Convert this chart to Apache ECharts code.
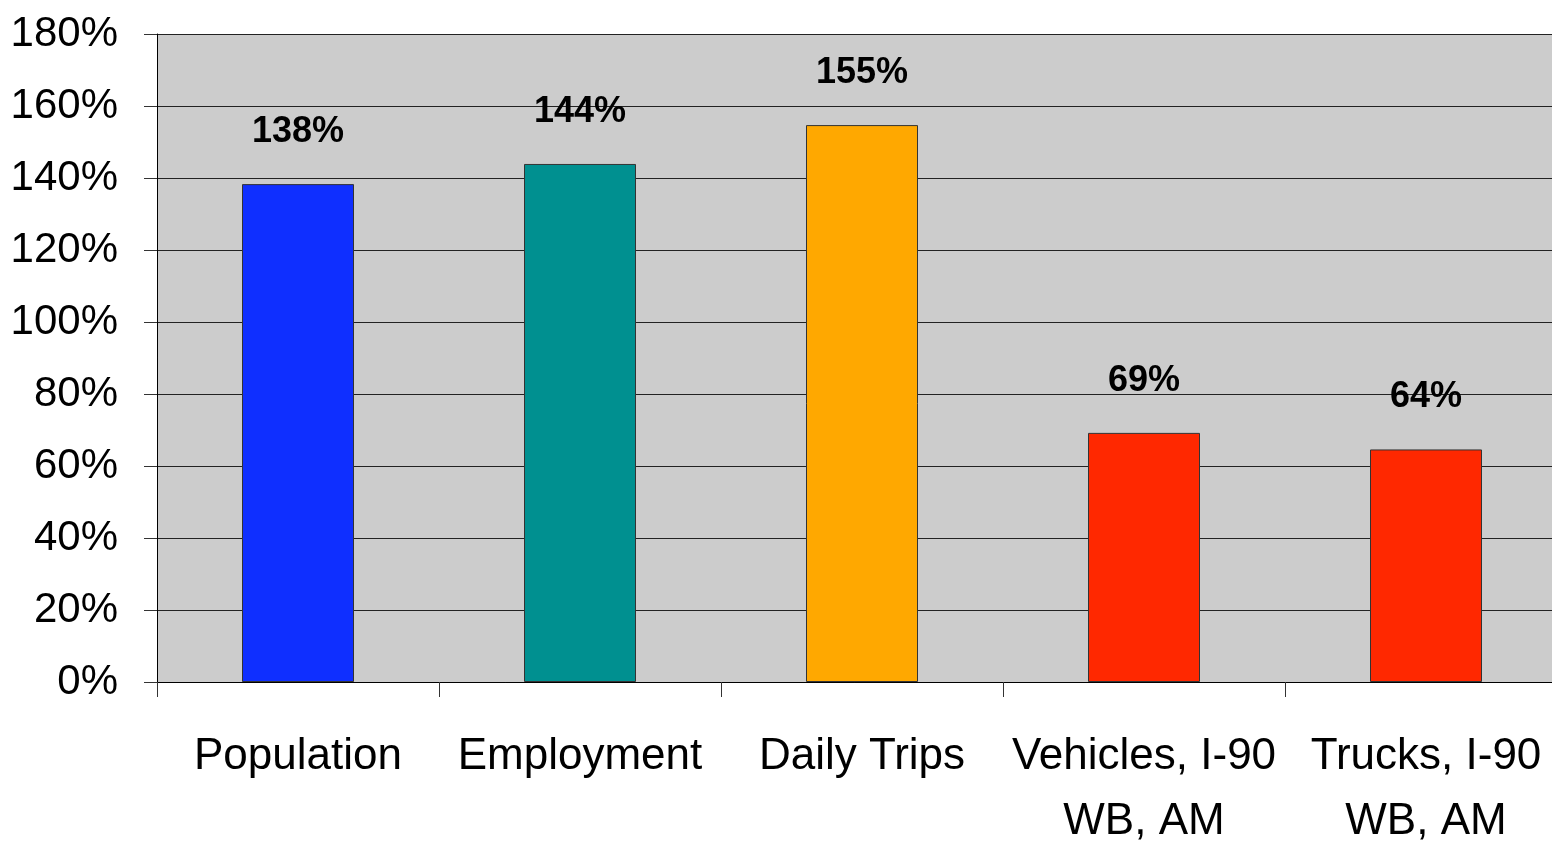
<!DOCTYPE html>
<html>
<head>
<meta charset="utf-8">
<script src="https://cdn.jsdelivr.net/npm/echarts@6/dist/echarts.min.js"></script>
<style>
  html, body { margin: 0; padding: 0; background: #fff; }
  #chart { width: 1552px; height: 845px; }
</style>
</head>
<body>
<div id="chart"></div>
<script>
  // categories and values
  var categories = ['Population', 'Employment', 'Daily Trips', 'Vehicles, I-90\nWB, AM', 'Trucks, I-90\nWB, AM'];
  var values = [138.3, 143.9, 154.7, 69.2, 64.6];
  var labels = ['138%', '144%', '155%', '69%', '64%'];
  var colors = ['#0F2FFF', '#009090', '#FFA800', '#FF2800', '#FF2800'];
  var yTicks = [0, 20, 40, 60, 80, 100, 120, 140, 160, 180];

  var font = '"Liberation Sans", Arial, sans-serif';
  var myChart = echarts.init(document.getElementById('chart'));

  var option = {
    animation: false,
    grid: {
      left: 157,
      top: 34,
      right: -15,
      bottom: 163,
      containLabel: false,
      outerBoundsMode: 'none',
      show: true,
      backgroundColor: '#CCCCCC',
      borderWidth: 0
    },
    xAxis: {
      type: 'category',
      data: categories,
      axisLine: { lineStyle: { color: '#000', width: 1 } },
      axisTick: { show: true, length: 15, interval: 0, lineStyle: { color: '#333' } },
      axisLabel: {
        interval: 0,
        margin: 42,
        color: '#000',
        fontFamily: font,
        fontSize: 44,
        lineHeight: 65
      }
    },
    yAxis: {
      type: 'value',
      min: yTicks[0],
      max: yTicks[yTicks.length - 1],
      interval: 20,
      axisLine: { show: true, lineStyle: { color: '#000', width: 1 } },
      axisTick: { show: true, length: 13, lineStyle: { color: '#333' } },
      splitLine: { lineStyle: { color: '#222', width: 1 } },
      axisLabel: {
        margin: 39,
        color: '#000',
        fontFamily: font,
        fontSize: 42,
        formatter: '{value}%'
      }
    },
    series: [
      {
        type: 'bar',
        barWidth: 112,
        data: values.map(function (v, i) {
          return { value: v, itemStyle: { color: colors[i] } };
        }),
        itemStyle: { borderColor: '#333', borderWidth: 1 },
        label: {
          show: true,
          position: 'top',
          distance: 34,
          color: '#000',
          fontFamily: font,
          fontWeight: 'bold',
          fontSize: 36,
          formatter: function (p) { return labels[p.dataIndex]; }
        }
      }
    ]
  };
  myChart.setOption(option);
</script>
</body>
</html>
